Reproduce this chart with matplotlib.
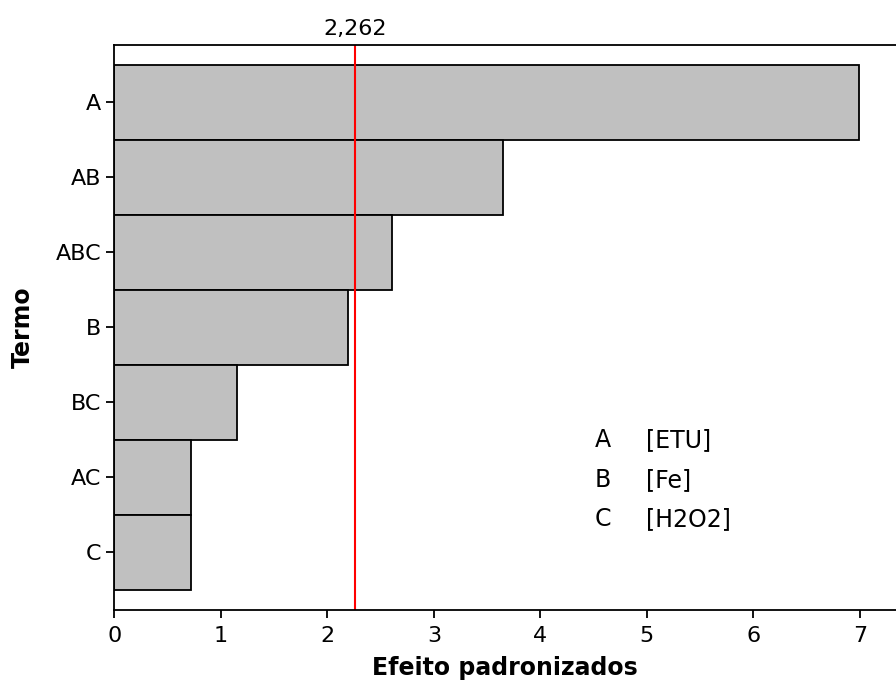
import matplotlib
matplotlib.use("Agg")
import matplotlib.pyplot as plt

# Pareto chart of standardized effects
terms = ["A", "AB", "ABC", "B", "BC", "AC", "C"]
effects = [6.99, 3.65, 2.61, 2.19, 1.15, 0.72, 0.72]
t_crit = 2.262
factor_keys = ["A", "B", "C"]
factor_names = ["[ETU]", "[Fe]", "[H2O2]"]

plt.rcParams["font.family"] = ["DejaVu Sans"]

fig = plt.figure(figsize=(8.96, 6.84), dpi=100)
ax = fig.add_axes([0.1276, 0.1086, 0.8724, 0.826])

pos = list(range(len(terms)))
ax.barh(pos, effects, height=1.0, color="#c0c0c0", edgecolor="black", linewidth=1.3)
ax.axvline(t_crit, color="red", linewidth=1.5)

ax.set_xlim(0, 7.34)
ax.set_ylim(len(terms) - 0.5 + 0.266, -0.5 - 0.266)
ax.set_yticks(pos)
ax.set_yticklabels(terms)
ax.set_xticks(range(0, 8))

for s in ["left", "bottom", "top"]:
    ax.spines[s].set_linewidth(1.3)
ax.spines["right"].set_visible(False)
ax.tick_params(axis="both", direction="out", length=6, width=1.3, labelsize=16, colors="black")
ax.tick_params(axis="x", pad=6)

ax.set_xlabel("Efeito padronizados", fontsize=17, fontweight="bold", labelpad=7)
ax.set_ylabel("Termo", fontsize=17, fontweight="bold", labelpad=15)

# critical value label above the plot
ax.text(t_crit, 1.01, "2,262", transform=ax.get_xaxis_transform(), ha="center", va="bottom", fontsize=16)

# factor legend
ys = [0.30, 0.229, 0.16]
for k, n, y in zip(factor_keys, factor_names, ys):
    ax.text(0.615, y, k, transform=ax.transAxes, ha="left", va="center", fontsize=17)
    ax.text(0.680, y, n, transform=ax.transAxes, ha="left", va="center", fontsize=17)

fig.savefig("out.png", dpi=100)
